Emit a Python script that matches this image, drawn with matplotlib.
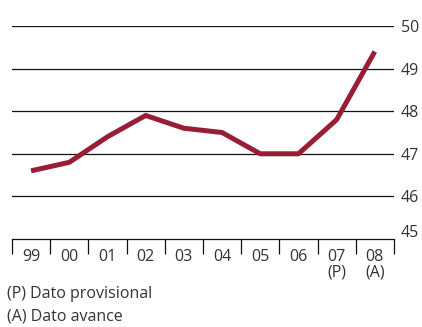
import numpy as np
import matplotlib.pyplot as plt
import matplotlib.transforms as mtransforms

plt.rcParams['font.family'] = ['Open Sans', 'DejaVu Sans']

# Datos
years = ['99', '00', '01', '02', '03', '04', '05', '06', '07', '08']
notes = ['', '', '', '', '', '', '', '', '(P)', '(A)']
values = [46.6, 46.8, 47.4, 47.9, 47.6, 47.5, 47.0, 47.0, 47.8, 49.4]
yticks = [45, 46, 47, 48, 49, 50]

fig = plt.figure(figsize=(4.22, 3.27), dpi=100)
ax = fig.add_axes([0.0284, 0.2691, 0.905, 0.6514])

x = np.arange(len(years))
ax.plot(x, values, color='#981e36', linewidth=3.6, solid_capstyle='butt', zorder=3)

ax.set_xlim(-0.5, len(years) - 0.5)
ax.set_ylim(45, 50)

for v in yticks[1:]:
    ax.axhline(v, color='#111111', linewidth=0.9, zorder=1)

ax.yaxis.tick_right()
ax.set_yticks(yticks)
ax.set_yticklabels([str(v) for v in yticks], fontsize=11.5, color='#333333')
ax.tick_params(axis='y', length=0, pad=5)
# el 45 queda un poco por encima de la línea base
lab45 = ax.get_yticklabels()[0]
lab45.set_transform(lab45.get_transform() +
                    mtransforms.ScaledTranslation(0, 8 / 100, fig.dpi_scale_trans))

ax.set_xticks(x)
ax.set_xticklabels([y + '\n' + n for y, n in zip(years, notes)],
                   fontsize=11.5, color='#333333', linespacing=1.0)
ax.set_xticks(np.arange(-0.5, len(years)), minor=True)
ax.tick_params(axis='x', which='major', length=0, pad=7)
ax.tick_params(axis='x', which='minor', length=10.8, width=0.9, color='#111111', direction='out')

for s in ['left', 'right', 'top']:
    ax.spines[s].set_visible(False)
ax.spines['bottom'].set_linewidth(0.9)
ax.spines['bottom'].set_color('#111111')

fig.text(0.017, 0.102, '(P) Dato provisional', fontsize=11.5, color='#333333', va='center')
fig.text(0.017, 0.031, '(A) Dato avance', fontsize=11.5, color='#333333', va='center')

fig.savefig('out.png', dpi=100)
